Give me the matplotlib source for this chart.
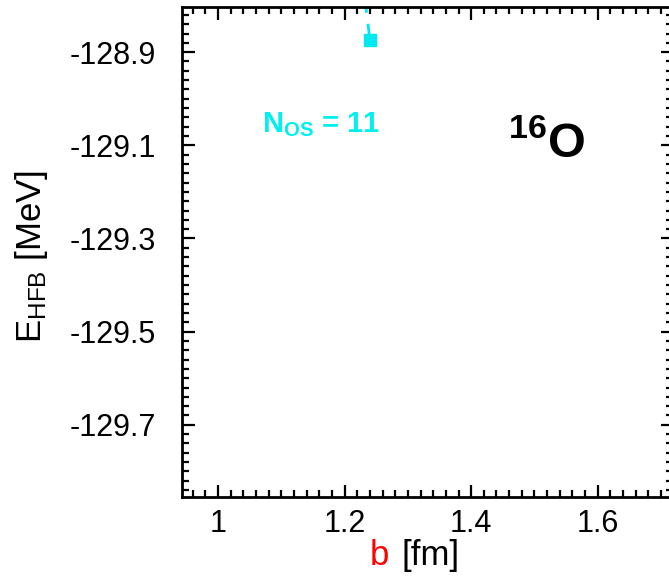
import matplotlib
matplotlib.use("Agg")
import matplotlib.pyplot as plt
from matplotlib.ticker import MultipleLocator

plt.rcParams['font.family'] = ['Liberation Sans', 'DejaVu Sans']
plt.rcParams['mathtext.fontset'] = 'custom'
plt.rcParams['mathtext.rm'] = 'Liberation Sans'
plt.rcParams['mathtext.bf'] = 'Liberation Sans:bold'
plt.rcParams['mathtext.it'] = 'Liberation Sans:italic'

# Data (N_OS = 11 curve; only one point lies inside the visible window)
b_values = [1.22, 1.24]
e_hfb = [-128.65, -128.874]

x_ticks = [1.0, 1.2, 1.4, 1.6]
x_ticklabels = ['1', '1.2', '1.4', '1.6']
y_ticks = [-128.9, -129.1, -129.3, -129.5, -129.7]
y_ticklabels = ['-128.9', '-129.1', '-129.3', '-129.5', '-129.7']

W, H = 669, 580
fig = plt.figure(figsize=(W / 100, H / 100), dpi=100)
left, right, top, bottom = 182, 673, 7, 497
ax = fig.add_axes([left / W, 1 - bottom / H, (right - left) / W, (bottom - top) / H])

ax.plot(b_values, e_hfb, color='#00e8f0', lw=2, dashes=(5, 4),
        marker='s', ms=9, mfc='#00e8f0', mec='#00e8f0')

ax.set_xlim(0.943, 1.719)
ax.set_ylim(-129.855, -128.803)
ax.set_xticks(x_ticks)
ax.set_xticklabels(x_ticklabels)
ax.set_yticks(y_ticks)
ax.set_yticklabels(y_ticklabels)
ax.xaxis.set_minor_locator(MultipleLocator(0.02))
ax.yaxis.set_minor_locator(MultipleLocator(0.02))

ax.tick_params(which='both', direction='in', top=True, right=True, width=1.6)
ax.tick_params(which='major', length=9, labelsize=22)
ax.tick_params(which='minor', length=5)
ax.tick_params(axis='y', pad=19)
ax.tick_params(axis='x', pad=9)
for s in ax.spines.values():
    s.set_linewidth(2)

# Axis labels
fig.text(370 / W, 1 - 565 / H, 'b', color='red', fontsize=25, ha='left', va='baseline')
fig.text(401 / W, 1 - 565 / H, '[fm]', color='black', fontsize=25, ha='left', va='baseline')
fig.text(32 / W, 1 - 256 / H, r'E$_{\mathrm{HFB}}$ [MeV]', fontsize=25, rotation=90,
         ha='center', va='center')

# Annotations
fig.text(262 / W, 1 - 132 / H, r'$\mathbf{N_{OS}}$' + ' = 11', color='#00f0f0',
         fontsize=21, fontweight='bold', ha='left', va='baseline')
fig.text(508 / W, 1 - 157 / H, r'$\mathbf{^{16}O}$', color='black',
         fontsize=35, ha='left', va='baseline')

fig.savefig('out.png', dpi=100)
